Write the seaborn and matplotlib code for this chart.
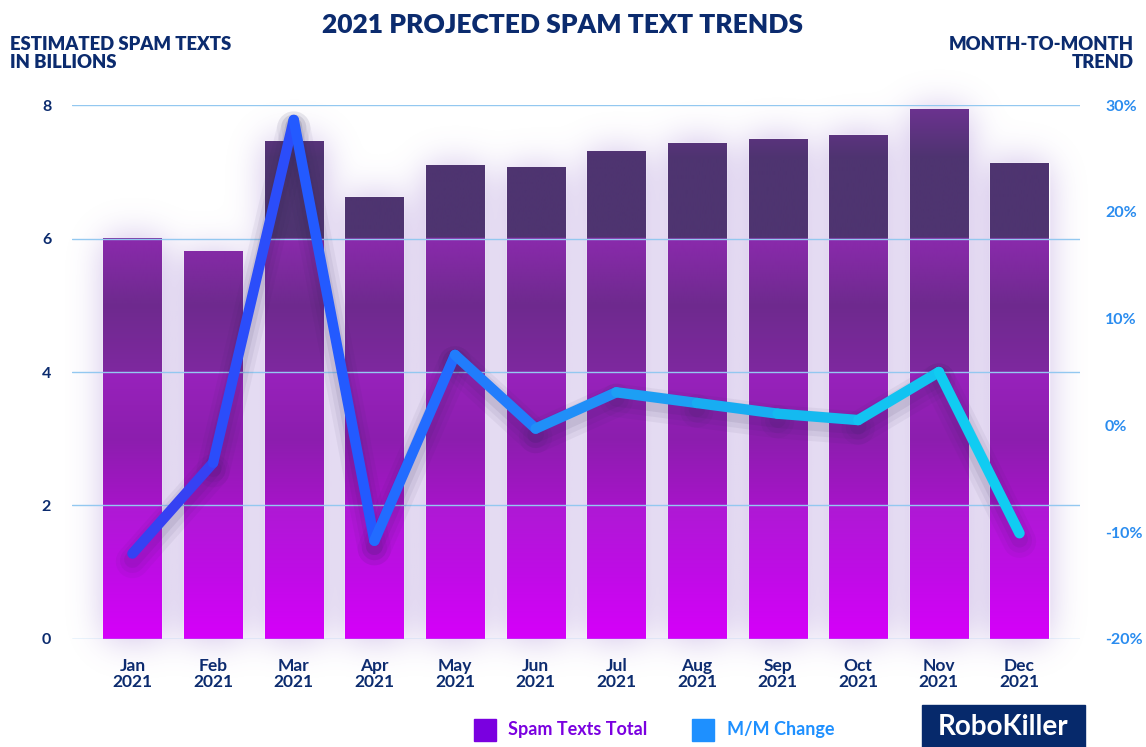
import numpy as np
import pandas as pd
import matplotlib
matplotlib.use("Agg")
import matplotlib.pyplot as plt
import matplotlib.colors as mcolors
from matplotlib.collections import LineCollection
from matplotlib.patches import Rectangle
import matplotlib.transforms as mtransforms
import seaborn as sns

# data
months = ["Jan", "Feb", "Mar", "Apr", "May", "Jun", "Jul", "Aug", "Sep", "Oct", "Nov", "Dec"]
year = "2021"
spam_billions = [6.00, 5.80, 7.46, 6.62, 7.09, 7.06, 7.30, 7.43, 7.49, 7.55, 7.93, 7.13]
mm_change = [-12.0, -3.5, 28.6, -10.8, 6.6, -0.3, 3.1, 2.1, 1.1, 0.5, 5.0, -10.1]
left_ticks = [0, 2, 4, 6, 8]
right_ticks = [-20, -10, 0, 10, 20, 30]

NAVY = "#0B2B6E"
BLUE_TXT = "#2A8CEF"
GRID = "#93C8F0"

sns.set_theme(style="white")
plt.rcParams["font.family"] = ["Lato", "DejaVu Sans"]

df = pd.DataFrame({"month": [f"{m}\n{year}" for m in months],
                   "spam": spam_billions, "change": mm_change})

fig = plt.figure(figsize=(11.46, 7.47), dpi=100)
ax = fig.add_axes([0.0628, 0.1446, 0.8796, 0.7148])

sns.barplot(data=df, x="month", y="spam", ax=ax, width=0.72, color="#9B1BC4",
            saturation=1, zorder=3)

xlim = (-0.75, 11.75)
ylim = (0, 8)

# glow behind the bars: blurred mask of the bar rectangles
gx0, gx1, gy0, gy1 = -1.2, 12.2, -1.0, 8.9
nx, ny = 560, 330
xs = np.linspace(gx0, gx1, nx)
ys = np.linspace(gy0, gy1, ny)
mask = np.zeros((ny, nx))
for p in ax.patches:
    x0, w, h = p.get_x(), p.get_width(), p.get_height()
    mask[np.ix_((ys >= 0) & (ys <= h), (xs >= x0) & (xs <= x0 + w))] = 1.0
sig = 9.0
k = np.arange(-36, 37)
kern = np.exp(-0.5 * (k / sig) ** 2)
kern /= kern.sum()
blur = np.apply_along_axis(lambda r: np.convolve(r, kern, mode="same"), 1, mask)
blur = np.apply_along_axis(lambda c: np.convolve(c, kern, mode="same"), 0, blur)
glow = np.zeros((ny, nx, 4))
glow[..., :3] = mcolors.to_rgb("#8458C4")
glow[..., 3] = np.clip(blur * 0.42, 0, 1)
ax.imshow(glow, extent=(gx0, gx1, gy0, gy1), origin="lower", aspect="auto",
          zorder=1, clip_on=False, interpolation="bilinear")

# banded vertical gradient for bar fills
stops = [(0.0, "#D600FA"), (1.0, "#BF0CE6"), (1.99, "#AE1AD4"),
         (2.01, "#A614C8"), (3.0, "#8C1EAE"), (3.99, "#9822BC"),
         (4.01, "#7E289F"), (5.0, "#6E2A8E"), (5.99, "#8A2AAC"),
         (6.01, "#4E3470"), (7.2, "#4E3470"), (8.0, "#6E3292")]
sy = [s[0] for s in stops]
sc = np.array([mcolors.to_rgb(s[1]) for s in stops])
yy = np.linspace(0, 8, 1068)
grad = np.stack([np.interp(yy, sy, sc[:, i]) for i in range(3)], axis=1)
for p in ax.patches:
    x0, w, h = p.get_x(), p.get_width(), p.get_height()
    n = int(np.searchsorted(yy, h))
    img = grad[:n][:, None, :]
    ax.imshow(img, extent=(x0, x0 + w, 0, h), origin="lower", aspect="auto",
              zorder=4, interpolation="bilinear")
    p.set_facecolor("none")

ax.set_xlim(*xlim)
ax.set_ylim(*ylim)
ax.set_yticks(left_ticks)
ax.set_yticklabels([str(t) for t in left_ticks])
for t in left_ticks:
    ax.axhline(t, color=GRID, lw=1.0, zorder=5)
ax.set_xlabel("")
ax.set_ylabel("")
for s in ax.spines.values():
    s.set_visible(False)
ax.tick_params(axis="y", length=0, pad=15, labelsize=11.5, labelcolor=NAVY)
ax.tick_params(axis="x", length=0, pad=14, labelsize=12.5, labelcolor=NAVY)
for lab in ax.get_yticklabels() + ax.get_xticklabels():
    lab.set_fontweight("bold")
for lab in ax.get_xticklabels():
    lab.set_linespacing(1.0)

# month-to-month line on the right axis
ax2 = ax.twinx()
sns.lineplot(data=df, x="month", y="change", ax=ax2, color="#2255FF", lw=7.5, sort=False)
line = ax2.lines[0]
xy = line.get_xydata()
line.remove()
segs = [xy[i:i + 2] for i in range(len(xy) - 1)]
cstops = [(0.0, "#3B3BF0"), (0.2, "#2355FF"), (0.35, "#2272FF"),
          (0.55, "#1F98F5"), (0.75, "#15B8F0"), (1.0, "#0FD0F2")]
cx = [c[0] for c in cstops]
cc = np.array([mcolors.to_rgb(c[1]) for c in cstops])
tmid = (np.arange(len(segs)) + 0.5) / len(segs)
seg_cols = np.stack([np.interp(tmid, cx, cc[:, i]) for i in range(3)], axis=1)

for off, lw, a in [(-8, 24, 0.05), (-7, 18, 0.06), (-6, 12, 0.08)]:
    tr = mtransforms.offset_copy(ax2.transData, fig=fig, x=0, y=off, units="dots")
    sh = LineCollection(segs, colors="#2A2450", linewidths=lw, alpha=a,
                        capstyle="round", joinstyle="round", transform=tr, zorder=2)
    ax2.add_collection(sh)
lc = LineCollection(segs, colors=seg_cols, linewidths=7.5, capstyle="round",
                    joinstyle="round", zorder=3)
ax2.add_collection(lc)

ax2.set_xlim(*xlim)
ax2.set_ylim(-20, 30)
ax2.set_yticks(right_ticks)
ax2.set_yticklabels([f"{t}%" for t in right_ticks])
ax2.set_ylabel("")
ax2.grid(False)
for s in ax2.spines.values():
    s.set_visible(False)
ax2.tick_params(axis="y", length=0, pad=18, labelsize=11.5, labelcolor=BLUE_TXT)
for lab in ax2.get_yticklabels():
    lab.set_fontweight("bold")

# titles
fig.text(0.491, 0.966, "2021 PROJECTED SPAM TEXT TRENDS", ha="center", va="center",
         fontsize=19, fontweight="heavy", color=NAVY)
fig.text(0.009, 0.952, "ESTIMATED SPAM TEXTS\nIN BILLIONS", ha="left", va="top",
         fontsize=13.3, fontweight="heavy", color=NAVY, linespacing=1.1)
fig.text(0.9895, 0.952, "MONTH-TO-MONTH\nTREND", ha="right", va="top",
         fontsize=13.3, fontweight="heavy", color=NAVY, linespacing=1.1,
         multialignment="right")

# legend
fig.patches.append(Rectangle((474 / 1146, 1 - 741 / 747), 22 / 1146, 22 / 747,
                             transform=fig.transFigure, color="#7A00E0"))
fig.text(508 / 1146, 1 - 730 / 747, "Spam Texts Total", ha="left", va="center",
         fontsize=13, fontweight="bold", color="#7A00E0")
fig.patches.append(Rectangle((692 / 1146, 1 - 741 / 747), 22 / 1146, 22 / 747,
                             transform=fig.transFigure, color="#1E90FF"))
fig.text(727 / 1146, 1 - 730 / 747, "M/M Change", ha="left", va="center",
         fontsize=13, fontweight="bold", color="#1E90FF")

# brand box
fig.patches.append(Rectangle((922 / 1146, 0), 163 / 1146, 42 / 747,
                             transform=fig.transFigure, color="#06296B"))
fig.text(1003.5 / 1146, 1 - 727 / 747, "RoboKiller", ha="center", va="center",
         fontsize=20, fontweight="bold", color="white")

fig.savefig("out.png", dpi=100)
